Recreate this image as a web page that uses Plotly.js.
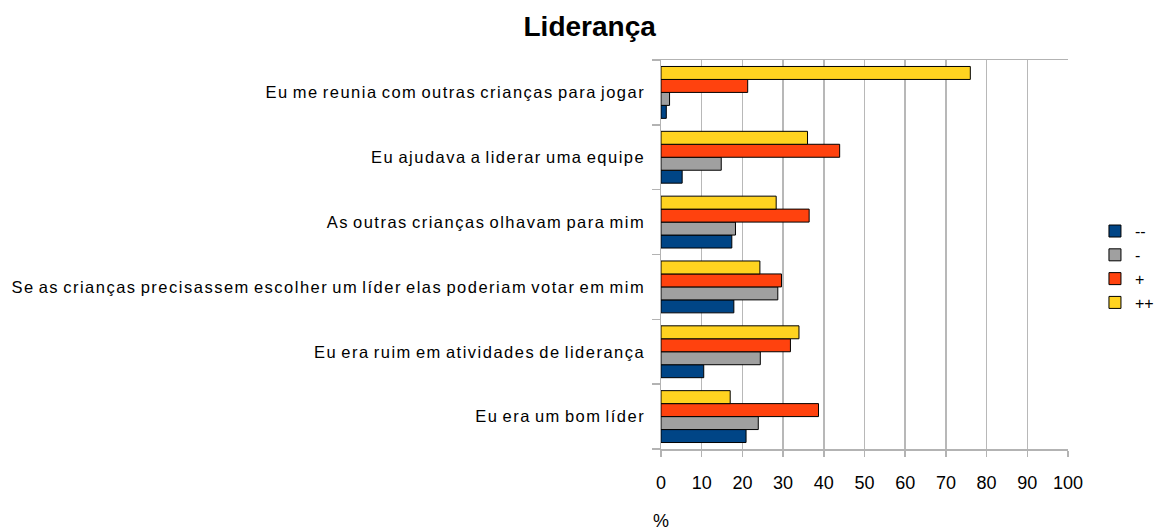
<!DOCTYPE html>
<html>
<head>
<meta charset="utf-8">
<script src="https://cdn.plot.ly/plotly-3.0.1.min.js"></script>
<style>
html, body { margin: 0; padding: 0; background: #fff; }
#chart { width: 1163px; height: 530px; }
.ytick text { letter-spacing: 1.5px; word-spacing: -2px; }
</style>
</head>
<body>
<div id="chart"></div>
<script>
// Categories, top to bottom as in the picture
const categories = [
  "Eu me reunia com outras crianças para jogar",
  "Eu ajudava a liderar uma equipe",
  "As outras crianças olhavam para mim",
  "Se as crianças precisassem escolher um líder elas poderiam votar em mim",
  "Eu era ruim em atividades de liderança",
  "Eu era um bom líder"
];
const seriesNames = ["--", "-", "+", "++"];
const valuesMinusMinus = [1.3, 5.2, 17.4, 17.9, 10.5, 20.9];
const valuesMinus      = [2.1, 14.8, 18.3, 28.7, 24.4, 23.9];
const valuesPlus       = [21.3, 43.9, 36.4, 29.6, 31.8, 38.7];
const valuesPlusPlus   = [76.0, 36.0, 28.3, 24.3, 33.9, 17.0];
const xTickValues = [0, 10, 20, 30, 40, 50, 60, 70, 80, 90, 100];

const colors = ["#004586", "#a0a0a0", "#ff420e", "#ffd320"];
const allValues = [valuesMinusMinus, valuesMinus, valuesPlus, valuesPlusPlus];

const traces = seriesNames.map((name, i) => ({
  type: "bar",
  orientation: "h",
  name: name,
  y: categories,
  x: allValues[i],
  marker: { color: colors[i], line: { color: "#000000", width: 1 } },
  hoverinfo: "x+y+name"
}));

const layout = {
  width: 1163,
  height: 530,
  paper_bgcolor: "#ffffff",
  plot_bgcolor: "#ffffff",
  margin: { l: 661, r: 95, t: 60, b: 81, pad: 0, autoexpand: false },
  font: { family: "Liberation Sans, Arial, sans-serif", color: "#000000" },
  title: {
    text: "<b>Liderança</b>",
    font: { family: "Liberation Sans, Arial, sans-serif", size: 28, color: "#000000" },
    x: 0.507, xanchor: "center", xref: "container",
    y: 0.951, yanchor: "middle", yref: "container"
  },
  barmode: "group",
  bargap: 0.2,
  bargroupgap: 0,
  xaxis: {
    range: [0, 100],
    tickvals: xTickValues,
    ticktext: xTickValues.map(String),
    showgrid: true,
    gridcolor: "#b8b8b8",
    gridwidth: 1.5,
    zeroline: false,
    showline: true,
    linecolor: "#b3b3b3",
    linewidth: 1.5,
    mirror: true,
    ticks: "outside",
    ticklen: 6,
    tickcolor: "#b3b3b3",
    tickwidth: 1.5,
    tickfont: { size: 18, color: "#000000" },
    ticklabelstandoff: 11,
    fixedrange: true
  },
  yaxis: {
    type: "category",
    categoryorder: "array",
    categoryarray: categories.slice().reverse(),
    showgrid: false,
    zeroline: false,
    showline: true,
    linecolor: "#b3b3b3",
    linewidth: 1.5,
    ticks: "outside",
    tickson: "boundaries",
    ticklen: 8,
    tickcolor: "#b3b3b3",
    tickwidth: 1.5,
    tickfont: { size: 16.5, color: "#000000" },
    ticklabelstandoff: 11,
    fixedrange: true
  },
  legend: {
    x: 0.9415, xanchor: "left", xref: "container",
    y: 0.496, yanchor: "middle", yref: "container",
    font: { size: 16, color: "#000000" },
    bgcolor: "rgba(0,0,0,0)",
    traceorder: "normal",
    itemwidth: 30,
    tracegroupgap: 0
  },
  annotations: [{
    text: "%",
    xref: "paper", yref: "paper",
    x: 0, y: -0.185,
    xanchor: "center", yanchor: "middle",
    showarrow: false,
    font: { size: 18, color: "#000000" }
  }]
};

Plotly.newPlot("chart", traces, layout, { displayModeBar: false, staticPlot: true });
</script>
</body>
</html>
